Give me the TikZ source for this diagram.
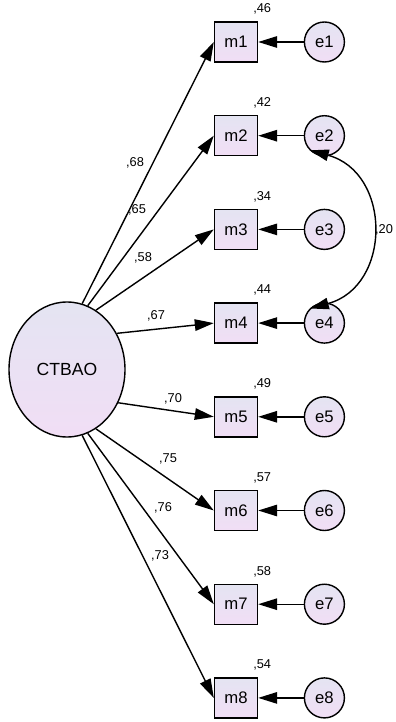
\documentclass[tikz,border=0pt]{standalone}
\usepackage{fontspec}
\setmainfont{Liberation Sans}
\usetikzlibrary{shapes,arrows,arrows.meta,positioning}
\definecolor{lavtop}{RGB}{228,228,242}
\definecolor{lavbot}{RGB}{241,222,245}

\begin{document}
\begin{tikzpicture}[
    obs/.style={rectangle, draw, line width=0.8pt, top color=lavtop, bottom color=lavbot, minimum width=0.86cm, minimum height=0.8cm, inner sep=0pt, font=\fontsize{9.5}{11}\selectfont},
    err/.style={circle, draw, line width=0.8pt, top color=lavtop, bottom color=lavbot, minimum size=0.8cm, inner sep=0pt, font=\fontsize{9.5}{11}\selectfont},
    latent/.style={ellipse, draw, line width=0.8pt, top color=lavtop, bottom color=lavbot, minimum width=2.32cm, minimum height=2.7cm, inner sep=0pt, font=\fontsize{10}{12}\selectfont},
    est/.style={font=\fontsize{7.3}{9}\selectfont, inner sep=0pt},
    node distance=0.91cm,
    arrow/.style={draw, line width=0.8pt, -{Triangle[length=3.8mm, width=2.3mm]}},
    cov/.style={draw, line width=0.8pt, {Triangle[length=3.8mm, width=2.3mm]}-{Triangle[length=3.8mm, width=2.3mm]}}]

    \useasboundingbox (0,0) rectangle (7.92,-14.44);

    % Node for the latent factor
    \node [latent] (ctbao) at (1.34,-7.39) {CTBAO};

    % Nodes for the items, their errors and the estimates
    \foreach \i/\rsq/\load/\lx/\ly/\ang in {1/46/68/2.70/-3.26/77, 2/42/65/2.74/-4.20/72,
                                        3/34/58/2.86/-5.16/64, 4/44/67/3.12/-6.32/36,
                                        5/49/70/3.46/-7.98/-33, 6/57/75/3.36/-9.18/-64,
                                        7/58/76/3.26/-10.16/-72, 8/54/73/3.20/-11.12/-77} {
        \node [obs] (m\i) at (4.72,{-0.84-1.874*(\i-1)}) {m\i};
        \node [err, right=of m\i] (e\i) {e\i};
        \node [est] (r\i) at ([shift={(0.08,0.24)}]m\i.north east) {,\rsq};
        \draw [arrow] (e\i) -- (m\i);
        \draw [arrow] (ctbao.\ang) -- (m\i.west);
        \node [est] (l\i) at (\lx,\ly) {,\load};
    }

    % Draw the error covariance
    \draw [cov] (e2.south west) to [out=-15, in=15, looseness=1.38]
        node [est, midway, right, xshift=0.6mm] {,20} (e4.north west);
\end{tikzpicture}
\end{document}
